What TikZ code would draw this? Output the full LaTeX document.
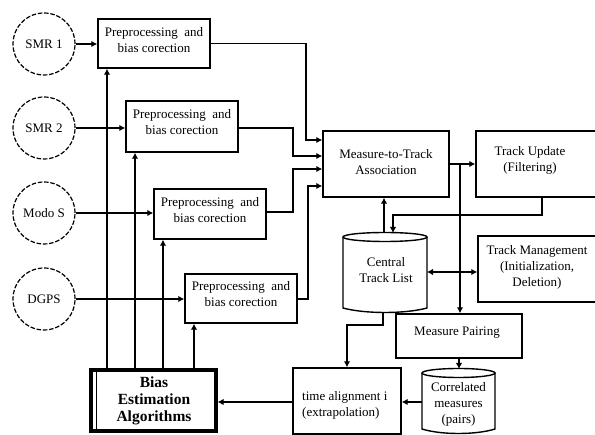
\documentclass[tikz,border=0pt]{standalone}
\usepackage{fontspec}
\setmainfont{Liberation Serif}
\usetikzlibrary{arrows.meta,calc}
\tikzset{
  box/.style={draw,line width=1.4pt,inner sep=0pt,align=center},
  src/.style={draw,circle,dash pattern=on 4.5pt off 1.8pt,line width=1.2pt,minimum size=62pt,inner sep=0pt},
  txt/.style={align=center,inner sep=0pt},
  arr/.style={line width=1.2pt,-{Latex[length=6pt,width=6.5pt]}},
  darr/.style={line width=1.2pt,{Latex[length=6pt,width=6.5pt]}-{Latex[length=6pt,width=6.5pt]}},
  ln/.style={line width=1.2pt},
  cylline/.style={line width=1.4pt}
}
\begin{document}
\begin{tikzpicture}[x=1pt,y=-1pt,font=\fontsize{13}{16}\selectfont]
\useasboundingbox (0,0) rectangle (595,435);
\clip (0,0) rectangle (595,435);
\fill[white] (0,0) rectangle (595,435);

% sources
\node[src] (smr1) at (44,44) {SMR 1};
\node[src] (smr2) at (44,128) {SMR 2};
\node[src] (modo) at (44,213) {Modo S};
\node[src] (dgps) at (44,299) {DGPS};

% preprocessing boxes
\node[box,minimum width=112pt,minimum height=49pt] (p1) at (154,43.5) {};
\node[txt] at (154,40) {Preprocessing\ \ and\\bias corection};
\node[box,minimum width=112pt,minimum height=51pt] (p2) at (182,126.5) {};
\node[txt] at (182,122) {Preprocessing\ \ and\\bias corection};
\node[box,minimum width=112pt,minimum height=50pt] (p3) at (210,214) {};
\node[txt] at (210,210) {Preprocessing\ \ and\\bias corection};
\node[box,minimum width=112pt,minimum height=49pt] (p4) at (241,298.5) {};
\node[txt] at (241,294) {Preprocessing\ \ and\\bias corection};

% bias estimation
\node[draw,line width=3.2pt,minimum width=125pt,minimum height=61pt,inner sep=0pt] (bias) at (153.5,400.5) {};
\draw[line width=0.9pt] (96,371) -- (96,431);
\node[txt,font=\fontsize{15.5}{17}\selectfont\bfseries] at (154,401) {Bias\\Estimation\\Algorithms};

% measure-to-track
\node[box,minimum width=126pt,minimum height=66pt] (mtt) at (386,164) {};
\node[txt] at (386,162) {Measure-to-Track\\Association};

% track update
\node[box,minimum width=124pt,minimum height=66pt] (tu) at (538,164) {};
\node[txt] at (530,160) {Track Update\\(Filtering)};

% track management
\node[box,minimum width=120pt,minimum height=66pt] (tm) at (538,269) {};
\node[txt] at (537,267) {Track Management\\(Initialization,\\Deletion)};

% central track list (cylinder)
\node[minimum width=84pt,minimum height=80pt,inner sep=0pt] (ctl) at (385,272) {};
\draw[cylline] (343,237) -- (343,308) .. controls (365,314) and (405,314) .. (427,308) -- (427,237);
\draw[cylline] (385,237) ellipse [x radius=42pt,y radius=4.5pt];
\node[txt] at (386,270.5) {Central\\Track List};

% measure pairing
\node[box,minimum width=126pt,minimum height=44pt] (mp) at (459,336) {};
\node[txt] at (457,333) {Measure Pairing};

% correlated measures (cylinder)
\node[minimum width=73pt,minimum height=65pt,inner sep=0pt] (cm) at (458.5,400.5) {};
\draw[cylline] (422,373) -- (422,429) .. controls (441,435) and (476,435) .. (495,429) -- (495,373);
\draw[cylline] (458.5,373) ellipse [x radius=36.5pt,y radius=4.5pt];
\node[txt] at (458.5,404) {Correlated\\measures\\(pairs)};

% time alignment
\node[box,minimum width=108pt,minimum height=66pt] (ta) at (347,401) {};
\node[txt,align=left,anchor=west] at (302,405) {time alignment i\\(extrapolation)};

% sources to preprocessing
\draw[arr] (smr1.east) -- (smr1.east -| p1.west);
\draw[arr] (smr2.east) -- (smr2.east -| p2.west);
\draw[arr] (modo.east) -- (modo.east -| p3.west);
\draw[arr] (dgps.east) -- (dgps.east -| p4.west);

% bias to preprocessing
\draw[arr] (bias.north -| 107,0) -- (p1.south -| 107,0);
\draw[arr] (bias.north -| 135,0) -- (p2.south -| 135,0);
\draw[arr] (bias.north -| 163,0) -- (p3.south -| 163,0);
\draw[arr] (bias.north -| 194,0) -- (p4.south -| 194,0);

% preprocessing to measure-to-track
\draw[arr] (p1.east) -- (306,43.5) -- (306,140) -- (mtt.west |- 0,140);
\draw[arr] (p2.east |- 0,128) -- (293,128) -- (293,156) -- (mtt.west |- 0,156);
\draw[arr] (p3.east |- 0,212) -- (293,212) -- (293,169) -- (mtt.west |- 0,169);
\draw[arr] (p4.east |- 0,299) -- (308,299) -- (308,186) -- (mtt.west |- 0,186);

% measure-to-track outputs
\draw[arr] (mtt.east) -- (tu.west);
\draw[arr] (460,164) -- (mp.north -| 460,0);

% track update back to central track list
\draw[arr] (tu.south -| 542,0) -- (542,215) -- (393,215) -- (393,233);

% central track list to measure-to-track
\draw[arr] (384,233) -- (mtt.south -| 384,0);

% central track list <-> track management
\draw[darr] (427,272) -- (tm.west |- 0,272);

% central track list to time alignment
\draw[arr] (383,312) -- (383,325) -- (347,325) -- (ta.north);

% measure pairing to correlated
\draw[arr] (mp.south) -- (459,369);

% correlated to time alignment
\draw[arr] (cm.west |- 0,402) -- (ta.east |- 0,402);

% time alignment to bias
\draw[arr] (ta.west |- 0,402) -- (bias.east |- 0,402);
\end{tikzpicture}
\end{document}
